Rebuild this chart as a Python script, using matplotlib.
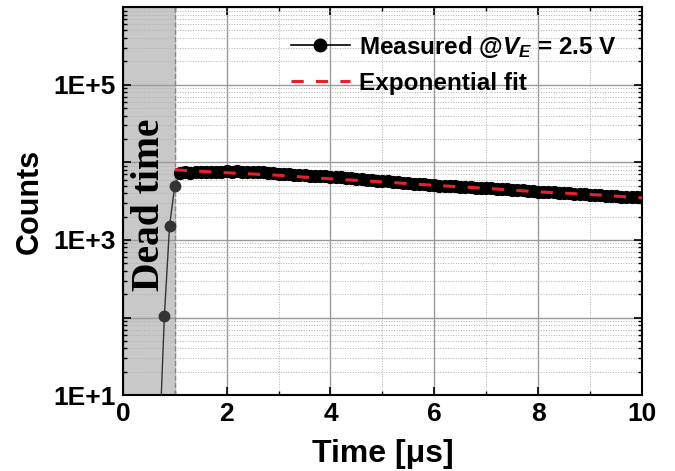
import numpy as np
import matplotlib.pyplot as plt
from matplotlib.ticker import LogLocator, FuncFormatter, MultipleLocator

# Early points (rise right after dead time)
t_rise = [0.7, 0.8, 0.9, 1.0]
c_rise = [2, 105, 1520, 5000]

# Measured counts after the dead time, 0.1 us steps
t_meas = np.round(np.arange(1.1, 10.05, 0.1), 1)
c_meas = [7350, 7420, 7380, 7480, 7520, 7460, 7560, 7600, 7540, 7620,
          7580, 7650, 7560, 7600, 7480, 7520, 7400, 7330, 7250, 7120,
          7060, 7000, 6950, 6880, 6820, 6760, 6700, 6620, 6580, 6500,
          6420, 6380, 6260, 6200, 6100, 6060, 5950, 5900, 5820, 5750,
          5700, 5600, 5520, 5450, 5380, 5300, 5250, 5180, 5120, 5060,
          5020, 4980, 4920, 4900, 4850, 4820, 4760, 4720, 4700, 4650,
          4620, 4560, 4520, 4470, 4420, 4380, 4340, 4290, 4250, 4200,
          4180, 4130, 4090, 4050, 4010, 3970, 3940, 3900, 3850, 3810,
          3790, 3740, 3720, 3680, 3650, 3620, 3580, 3560, 3530, 3560]

# Exponential fit
t_fit = [1, 2, 3, 4, 5, 6, 7, 8, 9, 10]
c_fit = [8000, 7330, 6800, 6120, 5600, 5050, 4620, 4160, 3860, 3480]

dead_time = 1.0

plt.rcParams['font.family'] = ['Liberation Sans', 'DejaVu Sans']
plt.rcParams['mathtext.fontset'] = 'custom'
plt.rcParams['mathtext.it'] = 'Liberation Sans:bold:italic'
plt.rcParams['mathtext.rm'] = 'Liberation Sans:bold'

fig = plt.figure(figsize=(6.75, 4.71), dpi=100)
ax = fig.add_axes([0.182, 0.161, 0.769, 0.824])

ax.axvspan(0, dead_time, color='#c8c8c8', zorder=0)
ax.axvline(dead_time, color='#888888', ls='--', lw=1, zorder=1)

ax.plot(t_rise, c_rise, '-o', color='#333333', lw=1, ms=7.5, zorder=3)
ax.plot([t_rise[-1], t_meas[0]], [c_rise[-1], c_meas[0]], '-', color='#333333', lw=1, zorder=3)
ax.plot(t_meas, c_meas, 'o', color='black', ms=8.5, zorder=3)
ax.plot(t_fit, c_fit, '--', color='#e8202a', lw=2.2, dashes=(4, 4), zorder=4)

# legend handles
ax.plot([], [], '-o', color='black', lw=1.2, ms=9, label=r'Measured @$V_E$ = 2.5 V')
ax.plot([], [], '--', color='#e8202a', lw=2.2, dashes=(4, 4), label='Exponential fit')
handles, labels = ax.get_legend_handles_labels()
ax.legend(handles, labels, loc='upper right', frameon=False,
          prop={'weight': 'bold', 'size': 17.5}, handlelength=2.4,
          handletextpad=0.4, labelspacing=0.5, borderaxespad=0.3,
          bbox_to_anchor=(0.985, 0.975))

ax.text(0.52, 2800, 'Dead time', rotation=90, ha='center', va='center',
        family='Liberation Serif', fontweight='bold', fontsize=28.5, zorder=5)

ax.set_yscale('log')
ax.set_xlim(0, 10)
ax.set_ylim(10, 1e6)

ax.xaxis.set_major_locator(MultipleLocator(2))
ax.xaxis.set_minor_locator(MultipleLocator(1))
ax.yaxis.set_major_locator(LogLocator(base=10, numticks=10))
ax.yaxis.set_minor_locator(LogLocator(base=10, subs=np.arange(2, 10), numticks=20))


def fmt(v, pos):
    e = int(round(np.log10(v)))
    return '1E+%d' % e if e % 2 == 1 else ''


ax.yaxis.set_major_formatter(FuncFormatter(fmt))

ax.grid(True, which='major', color='#9a9a9a', lw=1)
ax.grid(True, which='minor', color='#b0b0b0', lw=0.7, ls=':')
ax.set_axisbelow(True)

ax.tick_params(which='both', direction='in', top=True, right=True)
ax.tick_params(which='major', length=6, width=1.2, labelsize=19, pad=5)
ax.tick_params(which='minor', length=3, width=1)
for lab in ax.get_xticklabels() + ax.get_yticklabels():
    lab.set_fontweight('bold')
for s in ax.spines.values():
    s.set_linewidth(1.5)

ax.set_xlabel('Time [μs]', fontsize=23, fontweight='bold', labelpad=9)
ax.set_ylabel('Counts', fontsize=22, fontweight='bold', labelpad=6)

fig.savefig('out.png', dpi=100)
